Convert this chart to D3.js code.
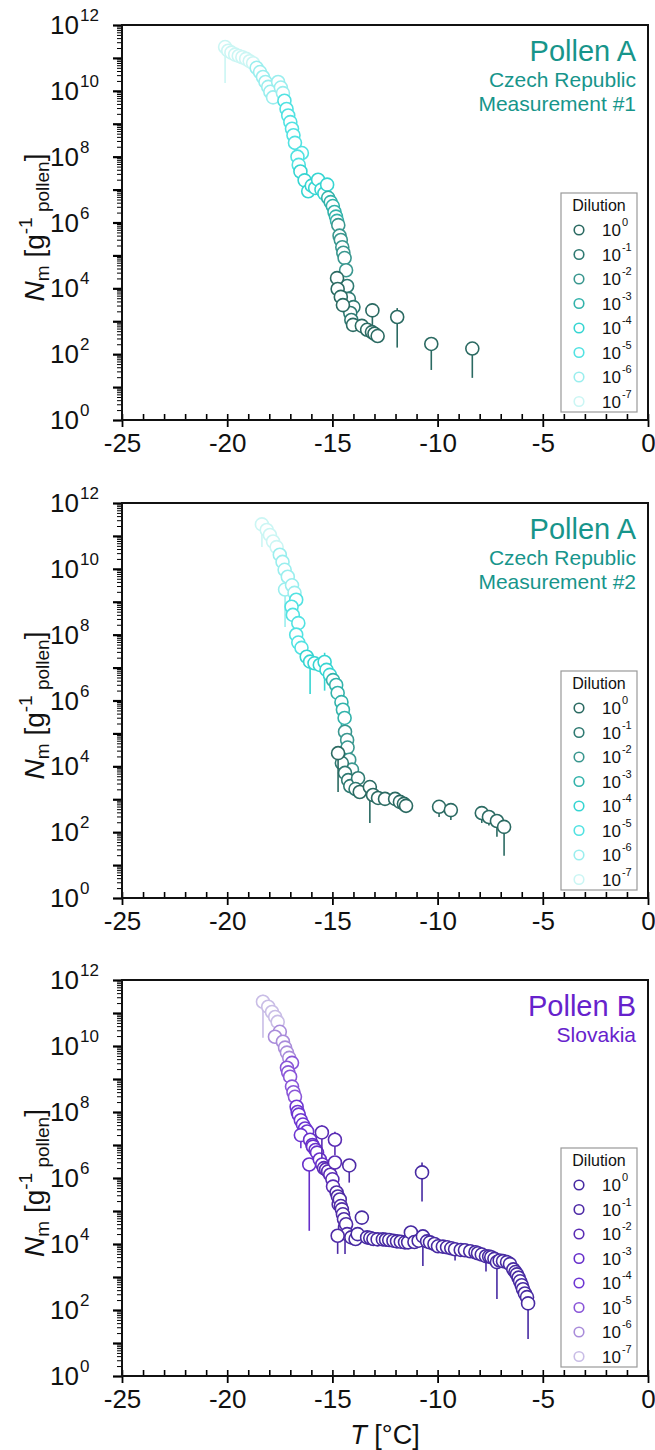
<!DOCTYPE html>
<html>
<head>
<meta charset="utf-8">
<script src="https://cdn.jsdelivr.net/npm/d3@7"></script>
<style>
  body { margin: 0; background: #fff; }
  svg { display: block; font-family: "Liberation Sans", Arial, sans-serif; }
</style>
</head>
<body>
<svg width="655" height="1450"></svg>
<script>
// temperature axis
const tempTicks = [-25, -20, -15, -10, -5, 0];
const tempMinorTicks = [-25, -24, -23, -22, -21, -20, -19, -18, -17, -16, -15, -14, -13, -12, -11, -10, -9, -8, -7, -6, -5, -4, -3, -2, -1, 0];
const decadeLabels = [0, 2, 4, 6, 8, 10, 12];
const dilutionExps = ['0', '-1', '-2', '-3', '-4', '-5', '-6', '-7'];
const tealColors = ['#2b6a62', '#2f7a72', '#3a978f', '#33b3ab', '#36d5d2', '#52e2e2', '#9aeeee', '#cbf6f4'];
const purpleColors = ['#472aa2', '#4e2ba6', '#5a2cb4', '#672fca', '#6d36d2', '#8a56d8', '#a98cda', '#c9bde6'];

// points: [T (°C), log10 N, lower bar end (log10), upper bar end (log10)]
const p1d0 = [[-14.78, 4.31], [-14.75, 3.98], [-14.6, 3.74], [-14.5, 3.49], [-14.02, 2.89], [-13.6, 2.86], [-13.35, 2.74], [-13.12, 2.67], [-13.0, 2.62], [-12.85, 2.55, 2.35],
  [-13.1, 3.33, 2.55, 3.55], [-11.92, 3.13, 2.2, 3.4], [-10.3, 2.31, 1.52, 2.45], [-8.35, 2.17, 1.28, 2.3]];
const p1d1 = [[-14.3, 4.07], [-14.22, 3.68], [-14.0, 3.43], [-14.15, 3.25], [-14.1, 3.04]];
const p1d2 = [[-14.72, 5.92], [-14.66, 5.6, 5.2], [-14.6, 5.47], [-14.53, 5.25], [-14.48, 5.08], [-14.42, 4.92], [-14.35, 4.55]];
const p1d3 = [[-15.2, 6.75], [-15.08, 6.62], [-14.98, 6.5], [-14.9, 6.32], [-14.83, 6.18], [-14.78, 6.05]];
const p1d4 = [[-16.52, 7.55], [-16.32, 7.28], [-16.15, 6.95, 6.75], [-15.98, 7.12], [-15.82, 7.05], [-15.68, 7.3, null, 7.45], [-15.52, 7.0], [-15.38, 6.88], [-15.25, 7.15]];
const p1d5 = [[-17.28, 9.7], [-17.18, 9.45], [-17.1, 9.25], [-17.0, 9.05], [-16.92, 8.85], [-16.85, 8.65], [-16.78, 8.42], [-16.45, 8.11], [-16.66, 8.0], [-16.6, 7.75]];
const p1d6 = [[-18.6, 10.7], [-18.44, 10.57], [-18.3, 10.42], [-18.18, 10.27], [-18.05, 10.12], [-17.95, 9.97], [-17.82, 9.8], [-17.58, 10.27], [-17.45, 10.1], [-17.35, 9.93]];
const p1d7 = [[-20.1, 11.33, 10.24, 11.5], [-19.95, 11.22], [-19.8, 11.16], [-19.62, 11.1], [-19.45, 11.06], [-19.28, 11.02], [-19.1, 10.97], [-18.93, 10.9], [-18.77, 10.84]];

const p2d0 = [[-14.73, 4.4, 3.22], [-13.7, 3.22], [-13.22, 3.37, 2.28], [-13.07, 3.13], [-12.83, 3.04], [-12.5, 3.01], [-12.02, 3.01], [-11.79, 2.92], [-11.6, 2.86], [-11.5, 2.8],
  [-9.93, 2.77, 2.46], [-9.37, 2.67, 2.37], [-7.9, 2.58, 2.28, 2.7], [-7.56, 2.46, 2.2], [-7.18, 2.34, 1.86, 2.5], [-6.84, 2.16, 1.28, 2.3]];
const p2d1 = [[-14.55, 4.1], [-14.4, 3.8], [-14.25, 3.58], [-14.15, 3.4], [-13.78, 3.64], [-13.9, 3.31]];
const p2d2 = [[-14.4, 5.05], [-14.3, 4.8], [-14.28, 4.57], [-14.2, 4.2], [-14.07, 3.9]];
const p2d3 = [[-14.97, 6.62], [-14.82, 6.47], [-14.75, 6.23], [-14.57, 5.95, 5.2], [-14.5, 5.72], [-14.42, 5.47]];
const p2d4 = [[-16.22, 7.33], [-16.06, 7.18, 6.2], [-15.85, 7.13], [-15.6, 7.08], [-15.37, 7.17, 6.3, 7.45], [-15.28, 6.93], [-15.12, 6.78]];
const p2d5 = [[-16.72, 9.06], [-16.94, 8.85], [-16.88, 8.6], [-16.62, 8.35], [-16.72, 8.0], [-16.62, 7.76], [-16.47, 7.6]];
const p2d6 = [[-17.5, 10.43], [-17.37, 10.21], [-17.27, 9.97], [-17.12, 9.76], [-17.25, 9.37, 8.23], [-16.92, 9.5], [-16.8, 9.27]];
const p2d7 = [[-18.35, 11.35, 10.66, 11.5], [-18.12, 11.18], [-17.97, 11.03], [-17.82, 10.83], [-17.65, 10.66]];

const p3d0 = [[-14.1, 4.2], [-13.9, 4.15], [-13.8, 4.3], [-13.6, 4.8], [-13.35, 4.2], [-13.2, 4.18], [-13.05, 4.15], [-12.85, 4.14], [-12.6, 4.14], [-12.45, 4.13],
  [-12.3, 4.12], [-12.1, 4.1], [-11.93, 4.08], [-11.75, 4.07], [-11.55, 4.05], [-11.4, 4.05], [-11.27, 4.35, null, 4.55], [-11.1, 4.06], [-10.9, 4.1],
  [-10.74, 6.17, 5.29, 6.47], [-10.7, 4.23, 3.33], [-10.5, 4.08], [-10.36, 4.05], [-10.15, 4.0], [-9.98, 3.93], [-9.75, 3.92], [-9.55, 3.9], [-9.35, 3.87],
  [-9.17, 3.84, 3.5], [-8.9, 3.82], [-8.7, 3.81], [-8.45, 3.78], [-8.2, 3.75], [-8.08, 3.72], [-7.9, 3.68], [-7.7, 3.63, 3.17], [-7.55, 3.62], [-7.45, 3.6],
  [-7.3, 3.55], [-7.18, 3.45, 2.33], [-7.05, 3.5], [-6.89, 3.48], [-6.7, 3.45], [-6.56, 3.39], [-6.4, 3.23], [-6.3, 3.15], [-6.23, 3.08], [-6.15, 2.98],
  [-6.08, 2.87], [-6.0, 2.75], [-5.94, 2.63], [-5.85, 2.5], [-5.75, 2.39], [-5.7, 2.2, 1.12]];
const p3d1 = [[-14.8, 5.56], [-14.74, 5.44], [-14.2, 6.38, 5.86, 6.5], [-14.7, 5.2], [-14.65, 5.35], [-14.6, 5.15], [-14.55, 5.05], [-14.5, 4.9], [-14.45, 4.75],
  [-14.4, 4.5, 3.7], [-14.35, 4.6], [-14.3, 4.3], [-14.75, 4.25, 3.7]];
const p3d2 = [[-15.5, 7.38, 6.6, 7.6], [-14.88, 7.16, 6.7, 7.4], [-15.4, 6.3], [-15.3, 6.26], [-15.2, 6.2], [-15.1, 6.1], [-15.0, 5.96], [-14.97, 5.74], [-14.88, 6.47, 5.5]];
const p3d3 = [[-16.06, 7.16], [-15.95, 7.0], [-15.92, 6.95], [-15.8, 6.85], [-15.73, 6.77], [-16.1, 6.41, 4.4], [-15.6, 6.56], [-15.48, 6.41]];
const p3d4 = [[-16.7, 8.16], [-16.65, 8.0], [-16.6, 7.92], [-16.5, 7.75], [-16.4, 7.62], [-16.3, 7.5], [-16.2, 7.41], [-16.5, 7.3, 6.9]];
const p3d5 = [[-16.92, 9.49], [-17.16, 9.34], [-17.1, 9.2], [-17.01, 9.07], [-16.92, 8.77], [-16.85, 8.6], [-16.78, 8.46]];
const p3d6 = [[-17.5, 10.43], [-17.73, 10.28], [-17.35, 10.13], [-17.25, 9.95], [-17.16, 9.8], [-17.05, 9.64]];
const p3d7 = [[-18.3, 11.34, 10.25, 11.55], [-18.05, 11.19], [-17.87, 11.03], [-17.72, 10.88], [-17.6, 10.73]];

const panels = [
  { top: 25, bottom: 420, title: 'Pollen A', sub: ['Czech Republic', 'Measurement #1'], color: '#17958b', colors: tealColors,
    series: [p1d0, p1d1, p1d2, p1d3, p1d4, p1d5, p1d6, p1d7] },
  { top: 503, bottom: 898, title: 'Pollen A', sub: ['Czech Republic', 'Measurement #2'], color: '#17958b', colors: tealColors,
    series: [p2d0, p2d1, p2d2, p2d3, p2d4, p2d5, p2d6, p2d7] },
  { top: 980, bottom: 1376, title: 'Pollen B', sub: ['Slovakia'], color: '#6622cc', colors: purpleColors,
    series: [p3d0, p3d1, p3d2, p3d3, p3d4, p3d5, p3d6, p3d7], xTitle: true }
];

const svg = d3.select('svg');
const left = 122, right = 648;
const x = d3.scaleLinear().domain([-25, 0]).range([left, right]);

const minorN = [];
for (let e = 0; e < 12; e++) for (let m = 2; m <= 9; m++) minorN.push(m * Math.pow(10, e));
const majorN = d3.range(13).map(e => Math.pow(10, e));

panels.forEach(p => {
  const g = svg.append('g');
  const y = d3.scaleLog().domain([1, 1e12]).range([p.bottom, p.top]);

  // y ticks (outside)
  g.append('g').attr('transform', `translate(${left},0)`)
    .call(d3.axisLeft(y).tickValues(minorN).tickSize(5).tickFormat(''))
    .call(a => a.select('.domain').remove())
    .selectAll('line').attr('stroke-width', 1);
  g.append('g').attr('transform', `translate(${left},0)`)
    .call(d3.axisLeft(y).tickValues(majorN).tickSize(9).tickFormat(''))
    .call(a => a.select('.domain').remove())
    .selectAll('line').attr('stroke-width', 2.2);

  decadeLabels.forEach(e => {
    const t = g.append('text').attr('x', 50).attr('y', y(Math.pow(10, e)) + 9)
      .attr('font-size', 26).attr('fill', '#111');
    t.append('tspan').text('10');
    t.append('tspan').attr('font-size', 17).attr('dy', -13).attr('dx', 1).text(e);
  });

  // x ticks
  g.append('g').attr('transform', `translate(0,${p.bottom})`)
    .call(d3.axisBottom(x).tickValues(tempMinorTicks).tickSize(-6).tickFormat(''))
    .call(a => a.select('.domain').remove())
    .selectAll('line').attr('stroke-width', 1.6);
  g.append('g').attr('transform', `translate(0,${p.bottom})`)
    .call(d3.axisBottom(x).tickValues(tempTicks).tickSize(7).tickPadding(7).tickFormat(d => String(d)))
    .call(a => a.select('.domain').remove())
    .call(a => a.selectAll('line').attr('stroke-width', 1.8))
    .selectAll('text').attr('font-size', 26).attr('fill', '#111')
    .attr('font-family', '"Liberation Sans", Arial, sans-serif');

  // frame
  g.append('rect').attr('x', left).attr('y', p.top)
    .attr('width', right - left).attr('height', p.bottom - p.top)
    .attr('fill', 'none').attr('stroke', '#111').attr('stroke-width', 2);

  // data: error bars then circles, highest dilution first
  const marks = g.append('g');
  for (let i = p.series.length - 1; i >= 0; i--) {
    const col = p.colors[i];
    p.series[i].forEach(d => {
      if (d[2] != null || d[3] != null) {
        const lo = d[2] != null ? d[2] : d[1];
        const hi = d[3] != null ? d[3] : d[1];
        marks.append('line')
          .attr('x1', x(d[0])).attr('x2', x(d[0]))
          .attr('y1', y(Math.pow(10, lo))).attr('y2', y(Math.pow(10, hi)))
          .attr('stroke', col).attr('stroke-width', 1.6);
      }
    });
    marks.selectAll(null).data(p.series[i]).enter().append('circle')
      .attr('cx', d => x(d[0])).attr('cy', d => y(Math.pow(10, d[1])))
      .attr('r', 6.5).attr('fill', '#fff')
      .attr('stroke', col).attr('stroke-width', 1.6);
  }

  // titles
  g.append('text').attr('x', 636).attr('y', p.top + 36).attr('text-anchor', 'end')
    .attr('font-size', 29).attr('fill', p.color).text(p.title);
  p.sub.forEach((s, k) => {
    g.append('text').attr('x', 636).attr('y', p.top + 62 + k * 24).attr('text-anchor', 'end')
      .attr('font-size', 21).attr('fill', p.color).text(s);
  });

  // legend
  const lg = g.append('g').attr('transform', `translate(561,${p.top + 168})`);
  lg.append('rect').attr('width', 76).attr('height', 219)
    .attr('fill', '#fff').attr('stroke', '#999').attr('stroke-width', 1.2);
  lg.append('text').attr('x', 38).attr('y', 18).attr('text-anchor', 'middle')
    .attr('font-size', 16).attr('fill', '#111').text('Dilution');
  dilutionExps.forEach((ex, k) => {
    const cy = 37 + k * 24.5;
    lg.append('circle').attr('cx', 18).attr('cy', cy).attr('r', 4.8)
      .attr('fill', 'none').attr('stroke', p.colors[k]).attr('stroke-width', 1.6);
    const t = lg.append('text').attr('x', 41).attr('y', cy + 6).attr('font-size', 17).attr('fill', '#111');
    t.append('tspan').text('10');
    t.append('tspan').attr('font-size', 11).attr('dy', -10).attr('dx', 1).text(ex);
  });

  // y title
  const yt = g.append('text')
    .attr('transform', `translate(44,${(p.top + p.bottom) / 2 + 5}) rotate(-90)`)
    .attr('text-anchor', 'middle').attr('font-size', 28).attr('fill', '#111');
  yt.append('tspan').attr('font-style', 'italic').text('N');
  yt.append('tspan').attr('font-size', 19).attr('dy', 5).text('m');
  yt.append('tspan').attr('dy', -5).text(' [g');
  yt.append('tspan').attr('font-size', 19).attr('dy', -12).text('-1');
  yt.append('tspan').attr('font-size', 19).attr('dy', 17).text(' pollen');
  yt.append('tspan').attr('dy', -5).text(']');

  if (p.xTitle) {
    const xt = g.append('text').attr('x', 385).attr('y', p.bottom + 68)
      .attr('text-anchor', 'middle').attr('font-size', 27).attr('fill', '#111');
    xt.append('tspan').attr('font-style', 'italic').text('T');
    xt.append('tspan').text(' [°C]');
  }
});
</script>
</body>
</html>
